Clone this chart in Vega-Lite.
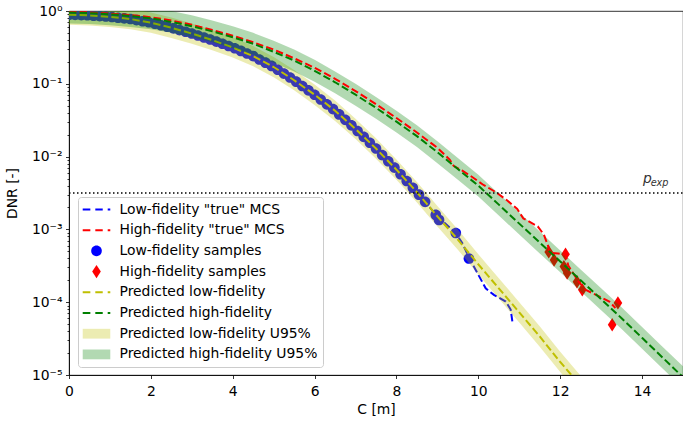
{
  "$schema": "https://vega.github.io/schema/vega-lite/v6.json",
  "width": 614,
  "height": 364,
  "autosize": {"type": "none"},
  "padding": {"left": 69, "top": 11, "right": 0, "bottom": 51},
  "config": {
    "font": "DejaVu Sans",
    "view": {"stroke": "black", "strokeWidth": 0.8},
    "axis": {"grid": false, "domainColor": "black", "domainWidth": 0.8, "tickColor": "black", "tickWidth": 0.8, "labelColor": "black", "titleColor": "black", "labelFontSize": 13.9, "titleFontSize": 13.9, "titleFontWeight": "normal", "labelFont": "DejaVu Sans", "titleFont": "DejaVu Sans"},
    "legend": {"orient": "bottom-left", "offset": 8.5, "labelFontSize": 13.9, "labelFont": "DejaVu Sans", "labelColor": "black", "symbolSize": 196, "symbolStrokeWidth": 0, "symbolOpacity": 1, "rowPadding": 6.7, "padding": 5.5, "strokeColor": "#cccccc", "fillColor": "rgba(255,255,255,0.8)", "cornerRadius": 3, "symbolOffset": 6, "labelOffset": 16, "labelLimit": 400}
  },
  "datasets": {
    "lf_pred": [
      {"C": 0, "DNR": 0.891, "lo": 0.645, "hi": 1.23},
      {"C": 0.5, "DNR": 0.871, "lo": 0.631, "hi": 1.2},
      {"C": 1, "DNR": 0.832, "lo": 0.602, "hi": 1.15},
      {"C": 1.5, "DNR": 0.776, "lo": 0.562, "hi": 1.071},
      {"C": 2, "DNR": 0.692, "lo": 0.501, "hi": 0.955},
      {"C": 2.5, "DNR": 0.589, "lo": 0.426, "hi": 0.813},
      {"C": 3, "DNR": 0.49, "lo": 0.355, "hi": 0.676},
      {"C": 3.5, "DNR": 0.398, "lo": 0.288, "hi": 0.549},
      {"C": 4, "DNR": 0.316, "lo": 0.229, "hi": 0.437},
      {"C": 4.5, "DNR": 0.24, "lo": 0.174, "hi": 0.331},
      {"C": 5, "DNR": 0.17, "lo": 0.123, "hi": 0.234},
      {"C": 5.5, "DNR": 0.112, "lo": 0.0813, "hi": 0.155},
      {"C": 6, "DNR": 0.0708, "lo": 0.0513, "hi": 0.0977},
      {"C": 6.5, "DNR": 0.0427, "lo": 0.0309, "hi": 0.0589},
      {"C": 7, "DNR": 0.024, "lo": 0.0174, "hi": 0.0331},
      {"C": 7.5, "DNR": 0.0129, "lo": 0.00933, "hi": 0.0178},
      {"C": 8, "DNR": 0.00661, "lo": 0.00479, "hi": 0.00912},
      {"C": 8.5, "DNR": 0.00324, "lo": 0.00234, "hi": 0.00447},
      {"C": 9, "DNR": 0.00151, "lo": 0.0011, "hi": 0.00209},
      {"C": 9.5, "DNR": 0.000724, "lo": 0.000525, "hi": 0.001},
      {"C": 10, "DNR": 0.000331, "lo": 0.00024, "hi": 0.000457},
      {"C": 10.5, "DNR": 0.000155, "lo": 0.000112, "hi": 0.000214},
      {"C": 11, "DNR": 7.24e-5, "lo": 5.25e-5, "hi": 0.0001},
      {"C": 11.5, "DNR": 3.39e-5, "lo": 2.45e-5, "hi": 4.68e-5},
      {"C": 12, "DNR": 1.51e-5, "lo": 1.1e-5, "hi": 2.09e-5},
      {"C": 12.5, "DNR": 7.08e-6, "lo": 5.13e-6, "hi": 9.77e-6}
    ],
    "hf_pred": [
      {"C": 0, "DNR": 0.955, "lo": 0.676, "hi": 1.35},
      {"C": 0.5, "DNR": 0.933, "lo": 0.661, "hi": 1.32},
      {"C": 1, "DNR": 0.902, "lo": 0.639, "hi": 1.27},
      {"C": 1.5, "DNR": 0.851, "lo": 0.603, "hi": 1.2},
      {"C": 2, "DNR": 0.794, "lo": 0.562, "hi": 1.12},
      {"C": 2.5, "DNR": 0.708, "lo": 0.501, "hi": 1.0},
      {"C": 3, "DNR": 0.617, "lo": 0.437, "hi": 0.871},
      {"C": 3.5, "DNR": 0.525, "lo": 0.372, "hi": 0.741},
      {"C": 4, "DNR": 0.437, "lo": 0.309, "hi": 0.617},
      {"C": 4.5, "DNR": 0.355, "lo": 0.251, "hi": 0.501},
      {"C": 5, "DNR": 0.275, "lo": 0.195, "hi": 0.389},
      {"C": 5.5, "DNR": 0.209, "lo": 0.148, "hi": 0.295},
      {"C": 6, "DNR": 0.151, "lo": 0.107, "hi": 0.214},
      {"C": 6.5, "DNR": 0.105, "lo": 0.0741, "hi": 0.148},
      {"C": 7, "DNR": 0.0708, "lo": 0.0501, "hi": 0.1},
      {"C": 7.5, "DNR": 0.0468, "lo": 0.0331, "hi": 0.0661},
      {"C": 8, "DNR": 0.0302, "lo": 0.0214, "hi": 0.0427},
      {"C": 8.5, "DNR": 0.0191, "lo": 0.0135, "hi": 0.0269},
      {"C": 9, "DNR": 0.0115, "lo": 0.00813, "hi": 0.0162},
      {"C": 9.5, "DNR": 0.00676, "lo": 0.00479, "hi": 0.00955},
      {"C": 10, "DNR": 0.00398, "lo": 0.00282, "hi": 0.00562},
      {"C": 10.5, "DNR": 0.00219, "lo": 0.00155, "hi": 0.00309},
      {"C": 11, "DNR": 0.0012, "lo": 0.000851, "hi": 0.0017},
      {"C": 11.5, "DNR": 0.000661, "lo": 0.000468, "hi": 0.000933},
      {"C": 12, "DNR": 0.000363, "lo": 0.000257, "hi": 0.000513},
      {"C": 12.5, "DNR": 0.0002, "lo": 0.000141, "hi": 0.000282},
      {"C": 13, "DNR": 0.00011, "lo": 7.76e-5, "hi": 0.000155},
      {"C": 13.5, "DNR": 6.03e-5, "lo": 4.27e-5, "hi": 8.51e-5},
      {"C": 14, "DNR": 3.24e-5, "lo": 2.29e-5, "hi": 4.57e-5},
      {"C": 14.5, "DNR": 1.74e-5, "lo": 1.23e-5, "hi": 2.45e-5},
      {"C": 15, "DNR": 9.33e-6, "lo": 6.61e-6, "hi": 1.32e-5}
    ],
    "lf_mcs": [
      {"C": 0, "DNR": 0.891}, {"C": 0.5, "DNR": 0.871}, {"C": 1, "DNR": 0.832}, {"C": 1.5, "DNR": 0.776},
      {"C": 2, "DNR": 0.692}, {"C": 2.5, "DNR": 0.589}, {"C": 3, "DNR": 0.49}, {"C": 3.5, "DNR": 0.398},
      {"C": 4, "DNR": 0.316}, {"C": 4.5, "DNR": 0.24}, {"C": 5, "DNR": 0.17}, {"C": 5.5, "DNR": 0.112},
      {"C": 6, "DNR": 0.0708}, {"C": 6.5, "DNR": 0.0427}, {"C": 7, "DNR": 0.024}, {"C": 7.5, "DNR": 0.0129},
      {"C": 8, "DNR": 0.00661}, {"C": 8.5, "DNR": 0.00324}, {"C": 9, "DNR": 0.00151},
      {"C": 9.45, "DNR": 0.000891}, {"C": 9.62, "DNR": 0.000631}, {"C": 9.75, "DNR": 0.000437},
      {"C": 9.8, "DNR": 0.00038}, {"C": 9.94, "DNR": 0.000275}, {"C": 10.18, "DNR": 0.000155},
      {"C": 10.38, "DNR": 0.000126}, {"C": 10.67, "DNR": 0.000102}, {"C": 10.79, "DNR": 7.94e-5},
      {"C": 10.84, "DNR": 5.01e-5}
    ],
    "hf_mcs": [
      {"C": 0, "DNR": 0.977}, {"C": 0.5, "DNR": 0.955}, {"C": 1, "DNR": 0.923}, {"C": 1.5, "DNR": 0.881},
      {"C": 2, "DNR": 0.822}, {"C": 2.5, "DNR": 0.741}, {"C": 3, "DNR": 0.646}, {"C": 3.5, "DNR": 0.55},
      {"C": 4, "DNR": 0.457}, {"C": 4.5, "DNR": 0.372}, {"C": 5, "DNR": 0.295}, {"C": 5.5, "DNR": 0.224},
      {"C": 6, "DNR": 0.166}, {"C": 6.5, "DNR": 0.117}, {"C": 7, "DNR": 0.0794}, {"C": 7.5, "DNR": 0.0525},
      {"C": 8, "DNR": 0.0339}, {"C": 8.5, "DNR": 0.0214}, {"C": 9, "DNR": 0.0132}, {"C": 9.3, "DNR": 0.00912},
      {"C": 9.4, "DNR": 0.00741}, {"C": 9.6, "DNR": 0.00646}, {"C": 9.85, "DNR": 0.00525}, {"C": 10.1, "DNR": 0.00417},
      {"C": 10.43, "DNR": 0.00324}, {"C": 10.7, "DNR": 0.00251}, {"C": 10.95, "DNR": 0.00191}, {"C": 11.1, "DNR": 0.00141},
      {"C": 11.2, "DNR": 0.00132}, {"C": 11.45, "DNR": 0.0011}, {"C": 11.6, "DNR": 0.000851}, {"C": 11.7, "DNR": 0.000603},
      {"C": 11.75, "DNR": 0.000479}, {"C": 11.95, "DNR": 0.000468}, {"C": 12.13, "DNR": 0.000447}, {"C": 12.2, "DNR": 0.000316},
      {"C": 12.45, "DNR": 0.000191}, {"C": 12.62, "DNR": 0.000148}, {"C": 12.95, "DNR": 0.00012}, {"C": 13.2, "DNR": 0.000102},
      {"C": 13.35, "DNR": 8.32e-5}
    ],
    "samples": [
      {"series": "Low-fidelity samples", "C": 0, "DNR": 0.891},
      {"series": "Low-fidelity samples", "C": 0.15, "DNR": 0.885},
      {"series": "Low-fidelity samples", "C": 0.3, "DNR": 0.879},
      {"series": "Low-fidelity samples", "C": 0.45, "DNR": 0.873},
      {"series": "Low-fidelity samples", "C": 0.6, "DNR": 0.863},
      {"series": "Low-fidelity samples", "C": 0.75, "DNR": 0.851},
      {"series": "Low-fidelity samples", "C": 0.9, "DNR": 0.839},
      {"series": "Low-fidelity samples", "C": 1.05, "DNR": 0.826},
      {"series": "Low-fidelity samples", "C": 1.2, "DNR": 0.809},
      {"series": "Low-fidelity samples", "C": 1.35, "DNR": 0.792},
      {"series": "Low-fidelity samples", "C": 1.5, "DNR": 0.776},
      {"series": "Low-fidelity samples", "C": 1.65, "DNR": 0.75},
      {"series": "Low-fidelity samples", "C": 1.8, "DNR": 0.724},
      {"series": "Low-fidelity samples", "C": 1.95, "DNR": 0.7},
      {"series": "Low-fidelity samples", "C": 2.1, "DNR": 0.67},
      {"series": "Low-fidelity samples", "C": 2.25, "DNR": 0.638},
      {"series": "Low-fidelity samples", "C": 2.4, "DNR": 0.608},
      {"series": "Low-fidelity samples", "C": 2.55, "DNR": 0.578},
      {"series": "Low-fidelity samples", "C": 2.7, "DNR": 0.547},
      {"series": "Low-fidelity samples", "C": 2.85, "DNR": 0.518},
      {"series": "Low-fidelity samples", "C": 3, "DNR": 0.49},
      {"series": "Low-fidelity samples", "C": 3.15, "DNR": 0.46},
      {"series": "Low-fidelity samples", "C": 3.3, "DNR": 0.433},
      {"series": "Low-fidelity samples", "C": 3.45, "DNR": 0.406},
      {"series": "Low-fidelity samples", "C": 3.6, "DNR": 0.38},
      {"series": "Low-fidelity samples", "C": 3.75, "DNR": 0.355},
      {"series": "Low-fidelity samples", "C": 3.9, "DNR": 0.331},
      {"series": "Low-fidelity samples", "C": 4.05, "DNR": 0.308},
      {"series": "Low-fidelity samples", "C": 4.2, "DNR": 0.283},
      {"series": "Low-fidelity samples", "C": 4.35, "DNR": 0.261},
      {"series": "Low-fidelity samples", "C": 4.5, "DNR": 0.24},
      {"series": "Low-fidelity samples", "C": 4.65, "DNR": 0.216},
      {"series": "Low-fidelity samples", "C": 4.8, "DNR": 0.195},
      {"series": "Low-fidelity samples", "C": 4.95, "DNR": 0.176},
      {"series": "Low-fidelity samples", "C": 5.1, "DNR": 0.156},
      {"series": "Low-fidelity samples", "C": 5.25, "DNR": 0.138},
      {"series": "Low-fidelity samples", "C": 5.4, "DNR": 0.122},
      {"series": "Low-fidelity samples", "C": 5.55, "DNR": 0.107},
      {"series": "Low-fidelity samples", "C": 5.7, "DNR": 0.0933},
      {"series": "Low-fidelity samples", "C": 5.85, "DNR": 0.0813},
      {"series": "Low-fidelity samples", "C": 6, "DNR": 0.0708},
      {"series": "Low-fidelity samples", "C": 6.15, "DNR": 0.0608},
      {"series": "Low-fidelity samples", "C": 6.3, "DNR": 0.0522},
      {"series": "Low-fidelity samples", "C": 6.45, "DNR": 0.0449},
      {"series": "Low-fidelity samples", "C": 6.6, "DNR": 0.038},
      {"series": "Low-fidelity samples", "C": 6.75, "DNR": 0.032},
      {"series": "Low-fidelity samples", "C": 6.9, "DNR": 0.0269},
      {"series": "Low-fidelity samples", "C": 7.05, "DNR": 0.0225},
      {"series": "Low-fidelity samples", "C": 7.2, "DNR": 0.0187},
      {"series": "Low-fidelity samples", "C": 7.35, "DNR": 0.0155},
      {"series": "Low-fidelity samples", "C": 7.5, "DNR": 0.0129},
      {"series": "Low-fidelity samples", "C": 7.65, "DNR": 0.0105},
      {"series": "Low-fidelity samples", "C": 7.8, "DNR": 0.00863},
      {"series": "Low-fidelity samples", "C": 7.95, "DNR": 0.00706},
      {"series": "Low-fidelity samples", "C": 8.1, "DNR": 0.00573},
      {"series": "Low-fidelity samples", "C": 8.25, "DNR": 0.00462},
      {"series": "Low-fidelity samples", "C": 8.4, "DNR": 0.00373},
      {"series": "Low-fidelity samples", "C": 8.55, "DNR": 0.003},
      {"series": "Low-fidelity samples", "C": 8.7, "DNR": 0.00239},
      {"series": "Low-fidelity samples", "C": 8.96, "DNR": 0.00158},
      {"series": "Low-fidelity samples", "C": 9.04, "DNR": 0.00135},
      {"series": "Low-fidelity samples", "C": 9.45, "DNR": 0.000891},
      {"series": "Low-fidelity samples", "C": 9.77, "DNR": 0.000398},
      {"series": "High-fidelity samples", "C": 11.72, "DNR": 0.00049},
      {"series": "High-fidelity samples", "C": 11.85, "DNR": 0.00038},
      {"series": "High-fidelity samples", "C": 12.13, "DNR": 0.000457},
      {"series": "High-fidelity samples", "C": 12.09, "DNR": 0.000309},
      {"series": "High-fidelity samples", "C": 12.17, "DNR": 0.000251},
      {"series": "High-fidelity samples", "C": 12.41, "DNR": 0.000191},
      {"series": "High-fidelity samples", "C": 12.54, "DNR": 0.000148},
      {"series": "High-fidelity samples", "C": 13.41, "DNR": 9.77e-5},
      {"series": "High-fidelity samples", "C": 13.27, "DNR": 4.9e-5}
    ],
    "pexp": [{"C": 0, "C2": 15, "DNR": 0.00316}],
    "plabel": [{"C": 14.02, "DNR": 0.0044, "text": "p"}],
    "sublabel": [{"C": 14.21, "DNR": 0.00394, "text": "exp"}]
  },
  "encoding": {
    "x": {"field": "C", "type": "quantitative", "title": "C [m]",
      "scale": {"domain": [0, 15], "nice": false, "zero": false},
      "axis": {"values": [0, 2, 4, 6, 8, 10, 12, 14], "tickSize": 3.5, "labelPadding": 5.5, "labelFlush": false, "labelOverlap": false, "titlePadding": 5}}
  },
  "layer": [
    {
      "data": {"name": "lf_mcs"},
      "mark": {"type": "line", "color": "#0000ff", "strokeWidth": 2, "strokeDash": [7.4, 3.2], "clip": true},
      "encoding": {
        "y": {"field": "DNR", "type": "quantitative", "title": "DNR [-]",
          "scale": {"type": "log", "domain": [1e-5, 1], "nice": false},
          "axis": {
            "values": [1e-5, 2e-5, 3e-5, 4e-5, 5e-5, 6e-5, 7e-5, 8e-5, 9e-5, 1e-4, 2e-4, 3e-4, 4e-4, 5e-4, 6e-4, 7e-4, 8e-4, 9e-4, 1e-3, 2e-3, 3e-3, 4e-3, 5e-3, 6e-3, 7e-3, 8e-3, 9e-3, 1e-2, 2e-2, 3e-2, 4e-2, 5e-2, 6e-2, 7e-2, 8e-2, 9e-2, 0.1, 0.2, 0.3, 0.4, 0.5, 0.6, 0.7, 0.8, 0.9, 1],
            "labelExpr": "abs(log(datum.value)/LN10 - round(log(datum.value)/LN10)) < 0.01 ? (datum.value >= 0.99 ? '10⁰' : '10⁻' + ['', '¹', '²', '³', '⁴', '⁵'][round(-log(datum.value)/LN10)]) : ''",
            "tickSize": {"condition": {"test": "abs(log(datum.value)/LN10 - round(log(datum.value)/LN10)) < 0.01", "value": 3.5}, "value": 2},
            "labelPadding": 3.5, "labelOverlap": false, "labelFlush": false, "labelBound": false, "titlePadding": 12
          }
        }
      }
    },
    {
      "data": {"name": "samples"},
      "mark": {"type": "point", "filled": true, "opacity": 1, "strokeWidth": 0, "size": 196, "clip": true},
      "encoding": {
        "y": {"field": "DNR", "type": "quantitative", "title": "DNR [-]"},
        "color": {"field": "series", "type": "nominal", "title": null,
          "scale": {
            "domain": ["Low-fidelity \"true\" MCS", "High-fidelity \"true\" MCS", "Low-fidelity samples", "High-fidelity samples", "Predicted low-fidelity", "Predicted high-fidelity", "Predicted low-fidelity U95%", "Predicted high-fidelity U95%"],
            "range": ["#0000ff", "#ff0000", "#0000ff", "#ff0000", "#bfbf00", "#008000", "#ececb2", "#b2d9b2"]
          }
        },
        "shape": {"field": "series", "type": "nominal", "title": null,
          "scale": {
            "domain": ["Low-fidelity \"true\" MCS", "High-fidelity \"true\" MCS", "Low-fidelity samples", "High-fidelity samples", "Predicted low-fidelity", "Predicted high-fidelity", "Predicted low-fidelity U95%", "Predicted high-fidelity U95%"],
            "range": [
              "M-1.97,-0.143H-0.88V0.143H-1.97Z M-0.17,-0.143H0.89V0.143H-0.17Z M1.6,-0.143H1.97V0.143H1.6Z",
              "M-1.97,-0.143H-0.88V0.143H-1.97Z M-0.17,-0.143H0.89V0.143H-0.17Z M1.6,-0.143H1.97V0.143H1.6Z",
              "M0.76,0A0.76,0.76 0 1,1 -0.76,0A0.76,0.76 0 1,1 0.76,0Z",
              "M0,-0.95L0.62,0L0,0.95L-0.62,0Z",
              "M-1.97,-0.143H-0.88V0.143H-1.97Z M-0.17,-0.143H0.89V0.143H-0.17Z M1.6,-0.143H1.97V0.143H1.6Z",
              "M-1.97,-0.143H-0.88V0.143H-1.97Z M-0.17,-0.143H0.89V0.143H-0.17Z M1.6,-0.143H1.97V0.143H1.6Z",
              "M-1.97,-0.7H1.97V0.7H-1.97Z",
              "M-1.97,-0.7H1.97V0.7H-1.97Z"
            ]
          }
        }
      }
    },
    {
      "data": {"name": "lf_pred"},
      "mark": {"type": "area", "color": "#bfbf00", "opacity": 0.3, "clip": true},
      "encoding": {
        "y": {"field": "lo", "type": "quantitative", "title": "DNR [-]"},
        "y2": {"field": "hi"}
      }
    },
    {
      "data": {"name": "lf_pred"},
      "mark": {"type": "line", "color": "#bfbf00", "strokeWidth": 2, "strokeDash": [7.4, 3.2], "clip": true},
      "encoding": {"y": {"field": "DNR", "type": "quantitative", "title": "DNR [-]"}}
    },
    {
      "data": {"name": "hf_pred"},
      "mark": {"type": "area", "color": "#008000", "opacity": 0.3, "clip": true},
      "encoding": {
        "y": {"field": "lo", "type": "quantitative", "title": "DNR [-]"},
        "y2": {"field": "hi"}
      }
    },
    {
      "data": {"name": "hf_mcs"},
      "mark": {"type": "line", "color": "#ff0000", "strokeWidth": 2, "strokeDash": [7.4, 3.2], "clip": true},
      "encoding": {"y": {"field": "DNR", "type": "quantitative", "title": "DNR [-]"}}
    },
    {
      "data": {"name": "hf_pred"},
      "mark": {"type": "line", "color": "#008000", "strokeWidth": 2, "strokeDash": [7.4, 3.2], "clip": true},
      "encoding": {"y": {"field": "DNR", "type": "quantitative", "title": "DNR [-]"}}
    },
    {
      "data": {"name": "pexp"},
      "mark": {"type": "rule", "stroke": "#000000", "strokeWidth": 1.5, "strokeDash": [1.5, 2.5], "opacity": 1},
      "encoding": {
        "x2": {"field": "C2"},
        "y": {"field": "DNR", "type": "quantitative", "title": "DNR [-]"}
      }
    },
    {
      "data": {"name": "plabel"},
      "mark": {"type": "text", "font": "DejaVu Sans", "fontStyle": "italic", "fontSize": 13.9, "color": "#333333", "align": "left", "baseline": "alphabetic"},
      "encoding": {"y": {"field": "DNR", "type": "quantitative", "title": "DNR [-]"}, "text": {"field": "text"}}
    },
    {
      "data": {"name": "sublabel"},
      "mark": {"type": "text", "font": "DejaVu Sans", "fontStyle": "italic", "fontSize": 9.7, "color": "#333333", "align": "left", "baseline": "alphabetic"},
      "encoding": {"y": {"field": "DNR", "type": "quantitative", "title": "DNR [-]"}, "text": {"field": "text"}}
    }
  ]
}
